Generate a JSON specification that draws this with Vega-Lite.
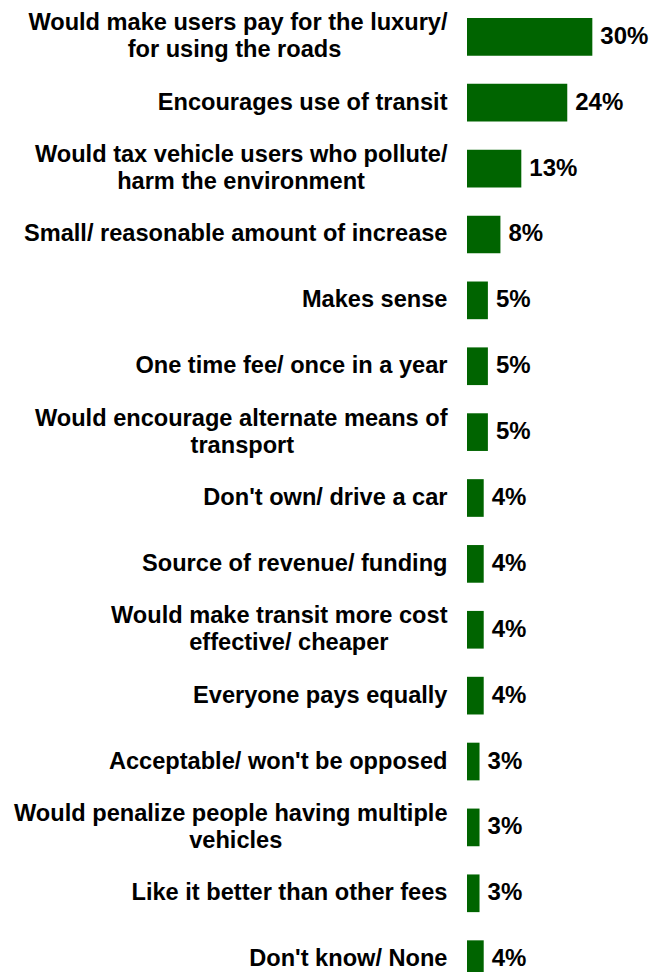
{
  "$schema": "https://vega.github.io/schema/vega-lite/v6.json",
  "width": 188,
  "height": 996,
  "autosize": {"type": "none"},
  "padding": {"left": 467, "top": 0, "right": 0, "bottom": 0},
  "background": "white",
  "config": {"view": {"stroke": null}},
  "data": {
    "values": [
      {"reason": "Would make users pay for the luxury/|for using the roads", "pct": 30},
      {"reason": "Encourages use of transit", "pct": 24},
      {"reason": "Would tax vehicle users who pollute/|harm the environment", "pct": 13},
      {"reason": "Small/ reasonable amount of increase", "pct": 8},
      {"reason": "Makes sense", "pct": 5},
      {"reason": "One time fee/ once in a year", "pct": 5},
      {"reason": "Would encourage alternate means of|transport", "pct": 5},
      {"reason": "Don't own/ drive a car", "pct": 4},
      {"reason": "Source of revenue/ funding", "pct": 4},
      {"reason": "Would make transit more cost|effective/ cheaper", "pct": 4},
      {"reason": "Everyone pays equally", "pct": 4},
      {"reason": "Acceptable/ won't be opposed", "pct": 3},
      {"reason": "Would penalize people having multiple|vehicles", "pct": 3},
      {"reason": "Like it better than other fees", "pct": 3},
      {"reason": "Don't know/ None", "pct": 4}
    ]
  },
  "transform": [
    {"calculate": "datum.pct + '%'", "as": "lbl"},
    {"calculate": "split(datum.reason, '|')", "as": "parts"},
    {"calculate": "datum.parts[0]", "as": "la"},
    {"calculate": "length(datum.parts) > 1 ? datum.parts[1] : ''", "as": "lb"},
    {"calculate": "length(replace(datum.la, regexp(\"[^iljtfr /']\", 'g'), ''))", "as": "na"},
    {"calculate": "length(replace(datum.la, regexp('[^mwWM]', 'g'), ''))", "as": "wa"},
    {"calculate": "length(replace(datum.lb, regexp(\"[^iljtfr /']\", 'g'), ''))", "as": "nb"},
    {"calculate": "length(replace(datum.lb, regexp('[^mwWM]', 'g'), ''))", "as": "wb"},
    {"calculate": "0.58 * (length(datum.la) - datum.na - datum.wa) + 0.29 * datum.na + 0.86 * datum.wa", "as": "ema"},
    {"calculate": "0.58 * (length(datum.lb) - datum.nb - datum.wb) + 0.29 * datum.nb + 0.86 * datum.wb", "as": "emb"},
    {"calculate": "length(datum.parts) > 1 ? datum.la + '|' + datum.lb + pad('', max(0, round(datum.ema - datum.emb)), '\u2002', 'right') + '\u200b' : datum.la", "as": "ylab"}
  ],
  "encoding": {
    "y": {
      "field": "ylab",
      "type": "nominal",
      "sort": null,
      "scale": {"paddingInner": 0.428, "paddingOuter": 0.273},
      "axis": {
        "title": null,
        "domain": false,
        "ticks": false,
        "grid": false,
        "labelPadding": 20,
        "labelLimit": 0,
        "labelOverlap": false,
        "labelFont": "Liberation Sans",
        "labelFontWeight": "bold",
        "labelFontSize": 23.6,
        "labelColor": "black",
        "labelLineHeight": 27,
        "labelAlign": "right",
        "labelOffset": {"expr": "indexof(datum.label, '|') >= 0 ? -13.5 : 0"},
        "labelExpr": "split(datum.label, '|')"
      }
    }
  },
  "layer": [
    {
      "mark": {"type": "bar", "color": "#006400"},
      "encoding": {
        "x": {
          "field": "pct",
          "type": "quantitative",
          "scale": {"domain": [0, 45], "nice": false},
          "axis": null
        }
      }
    },
    {
      "mark": {
        "type": "text",
        "align": "left",
        "baseline": "middle",
        "dx": 8,
        "font": "Liberation Sans",
        "fontWeight": "bold",
        "fontSize": 24,
        "color": "black"
      },
      "encoding": {
        "x": {"field": "pct", "type": "quantitative"},
        "text": {"field": "lbl", "type": "nominal"}
      }
    }
  ]
}
